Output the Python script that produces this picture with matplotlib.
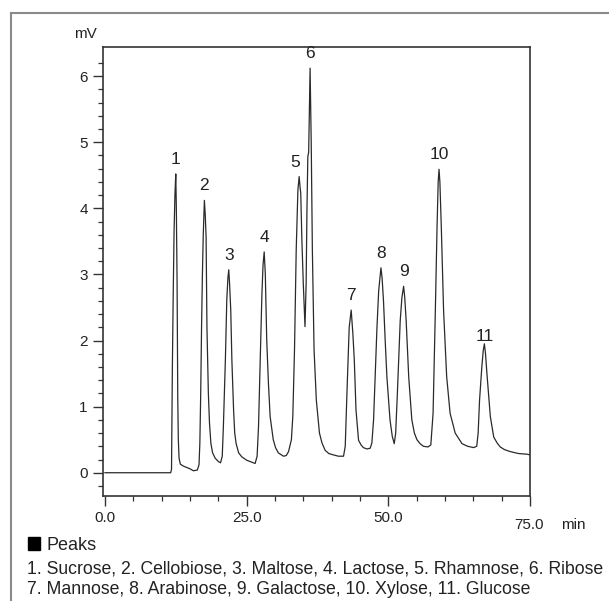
import numpy as np
import matplotlib
matplotlib.use("Agg")
import matplotlib.pyplot as plt
from matplotlib.lines import Line2D
from matplotlib.patches import Rectangle
from matplotlib.ticker import FixedLocator

plt.rcParams['font.family'] = ['Liberation Sans', 'DejaVu Sans']

# ---- data ----
time_min = [
    0.0, 11.6, 11.75, 11.9, 12.05, 12.2, 12.35, 12.5, 12.6, 12.73, 12.85, 12.95, 13.08, 13.3,
    13.85, 14.45, 15.0, 15.6, 16.3, 16.6, 16.75, 16.9, 17.05, 17.2, 17.35, 17.55, 17.7, 17.85,
    18.0, 18.25, 18.45, 18.7, 19.0, 19.45, 20.0, 20.4, 20.7, 20.9, 21.25, 21.5, 21.7, 21.85,
    22.0, 22.2, 22.4, 22.7, 22.9, 23.15, 23.6, 24.15, 25.0, 25.6, 26.5, 26.85, 27.1, 27.4,
    27.7, 27.9, 28.1, 28.3, 28.55, 28.85, 29.15, 29.7, 30.1, 30.6, 31.5, 32.0, 32.4, 32.9,
    33.15, 33.45, 33.75, 34.05, 34.27, 34.45, 34.55, 34.75, 35.0, 35.3, 35.5, 35.65, 35.8,
    35.95, 36.1, 36.2, 36.3, 36.4, 36.6, 36.9, 37.3, 37.85, 38.3, 38.85, 39.5, 40.3, 41.2,
    42.1, 42.4, 42.7, 43.1, 43.45, 43.75, 44.0, 44.3, 44.75, 45.2, 45.6, 46.2, 46.8, 47.1,
    47.4, 47.7, 48.0, 48.3, 48.7, 48.9, 49.15, 49.45, 49.75, 50.3, 50.7, 51.05, 51.3, 51.6,
    52.1, 52.4, 52.7, 52.9, 53.15, 53.6, 54.15, 54.6, 55.05, 55.6, 56.2, 57.0, 57.5, 57.9,
    58.3, 58.6, 58.8, 58.95, 59.1, 59.35, 59.75, 60.3, 60.9, 61.8, 63.0, 64.0, 65.05, 65.6,
    65.85, 66.1, 66.5, 66.75, 66.95, 67.15, 67.4, 68.0, 68.6, 69.2, 69.75, 70.5, 71.5, 73.0,
    74.5, 75.0,
]
signal_mv = [
    0.0, 0.0, 0.05, 1.6, 2.7, 3.65, 4.2, 4.52, 4.0, 2.9, 1.13, 0.5, 0.22, 0.13,
    0.1, 0.08, 0.06, 0.03, 0.04, 0.12, 0.45, 1.2, 2.2, 3.0, 3.6, 4.12, 3.9, 3.57,
    2.2, 1.2, 0.75, 0.44, 0.3, 0.22, 0.17, 0.15, 0.25, 0.7, 1.7, 2.61, 2.95, 3.07,
    2.85, 2.46, 1.7, 0.95, 0.6, 0.44, 0.3, 0.24, 0.19, 0.17, 0.14, 0.25, 0.7, 1.7,
    2.71, 3.15, 3.34, 3.0, 2.0, 1.35, 0.85, 0.5, 0.38, 0.3, 0.25, 0.26, 0.32, 0.5,
    0.85, 1.86, 3.37, 4.28, 4.48, 4.3, 4.23, 3.52, 2.86, 2.21, 2.86, 4.0, 4.78,
    4.85, 5.6, 6.12, 5.6, 4.98, 3.37, 1.86, 1.1, 0.6, 0.45, 0.34, 0.29, 0.27, 0.25,
    0.25, 0.4, 1.2, 2.2, 2.46, 2.1, 1.7, 0.95, 0.49, 0.42, 0.38, 0.36, 0.37, 0.45,
    0.8, 1.5, 2.2, 2.75, 3.1, 2.95, 2.6, 2.0, 1.45, 0.8, 0.55, 0.44, 0.6, 1.2,
    2.3, 2.65, 2.82, 2.65, 2.3, 1.45, 0.8, 0.6, 0.5, 0.44, 0.4, 0.39, 0.42, 0.9,
    2.46, 3.72, 4.4, 4.59, 4.4, 3.72, 2.46, 1.45, 0.9, 0.6, 0.44, 0.4, 0.38, 0.4,
    0.6, 1.1, 1.6, 1.85, 1.95, 1.8, 1.5, 0.85, 0.54, 0.45, 0.39, 0.35, 0.32, 0.29,
    0.28, 0.27,
]
peak_numbers = ['1', '2', '3', '4', '5', '6', '7', '8', '9', '10', '11']
peak_times = [12.5, 17.55, 21.85, 28.1, 34.27, 36.2, 43.45, 48.7, 52.7, 58.95, 66.95]
peak_heights = [4.52, 4.12, 3.07, 3.34, 4.48, 6.12, 2.46, 3.1, 2.82, 4.59, 1.95]
peak_names = ['Sucrose', 'Cellobiose', 'Maltose', 'Lactose', 'Rhamnose', 'Ribose',
              'Mannose', 'Arabinose', 'Galactose', 'Xylose', 'Glucose']
x_major = [0, 25, 50, 75]
x_labels = ['0.0', '25.0', '50.0', '']
y_major = [0, 1, 2, 3, 4, 5, 6]

# ---- figure ----
W, H = 609, 601
fig = plt.figure(figsize=(W / 100, H / 100), dpi=100)
ax = fig.add_axes([103 / W, 1 - 496 / H, (530 - 103) / W, (496 - 47) / H])

line_col = '#2a2a2a'
ax.plot(time_min, signal_mv, color=line_col, lw=0.9)

ax.set_xlim(-0.34, 75)
ax.set_ylim(-0.352, 6.44)

for s in ax.spines.values():
    s.set_color('#333333')
    s.set_linewidth(1.2)

ax.xaxis.set_major_locator(FixedLocator(x_major))
ax.set_xticklabels(x_labels)
ax.xaxis.set_minor_locator(FixedLocator([m for m in range(5, 75, 5) if m not in x_major]))
ax.yaxis.set_major_locator(FixedLocator(y_major))
ax.set_yticklabels([str(v) for v in y_major])
ax.yaxis.set_minor_locator(FixedLocator([round(v, 1) for v in np.arange(-0.2, 6.3, 0.2)
                                         if abs(v - round(v)) > 1e-6]))
ax.tick_params(which='major', direction='out', length=7, width=1.0, color='#333333',
               labelsize=11, pad=4, labelcolor='#222222')
ax.tick_params(which='minor', direction='out', length=3.5, width=0.9, color='#333333')

# peak labels
off = {'5': (-3, 5), '11': (0, 0)}
for lab, t, v in zip(peak_numbers, peak_times, peak_heights):
    dx, dy = off.get(lab, (0, 5))
    ax.annotate(lab, (t, v), xytext=(dx, dy), textcoords='offset points',
                ha='center', va='bottom', fontsize=12.5, color='#222222')

# axis unit labels
fig.text(85.5 / W, 1 - 33.5 / H, 'mV', ha='center', va='center', fontsize=11, color='#222222')
fig.text(528.7 / W, 1 - 525 / H, '75.0', ha='center', va='center', fontsize=11, color='#222222')
fig.text(561 / W, 1 - 525 / H, 'min', ha='left', va='center', fontsize=11, color='#222222')

# outer frame
fig.add_artist(Line2D([10.5 / W, 10.5 / W], [0, 1 - 13 / H], transform=fig.transFigure,
                      color='#8a8a8a', lw=1.5))
fig.add_artist(Line2D([10.5 / W, 1.0], [1 - 13 / H, 1 - 13 / H], transform=fig.transFigure,
                      color='#8a8a8a', lw=1.5))

# peaks legend text
fig.add_artist(Rectangle((27.5 / W, 1 - 549.5 / H), 12.5 / W, 12.5 / H,
                         transform=fig.transFigure, color='black'))
fig.text(47 / W, 1 - 549.5 / H, 'Peaks', ha='left', va='baseline', fontsize=13, color='#222222')
line1 = ', '.join(f'{n}. {s}' for n, s in zip(peak_numbers[:6], peak_names[:6]))
line2 = ', '.join(f'{n}. {s}' for n, s in zip(peak_numbers[6:], peak_names[6:]))
fig.text(27 / W, 1 - 573.5 / H, line1, ha='left', va='baseline', fontsize=12.7, color='#222222')
fig.text(27 / W, 1 - 594.5 / H, line2, ha='left', va='baseline', fontsize=12.7, color='#222222')

fig.savefig('out.png', dpi=100)
